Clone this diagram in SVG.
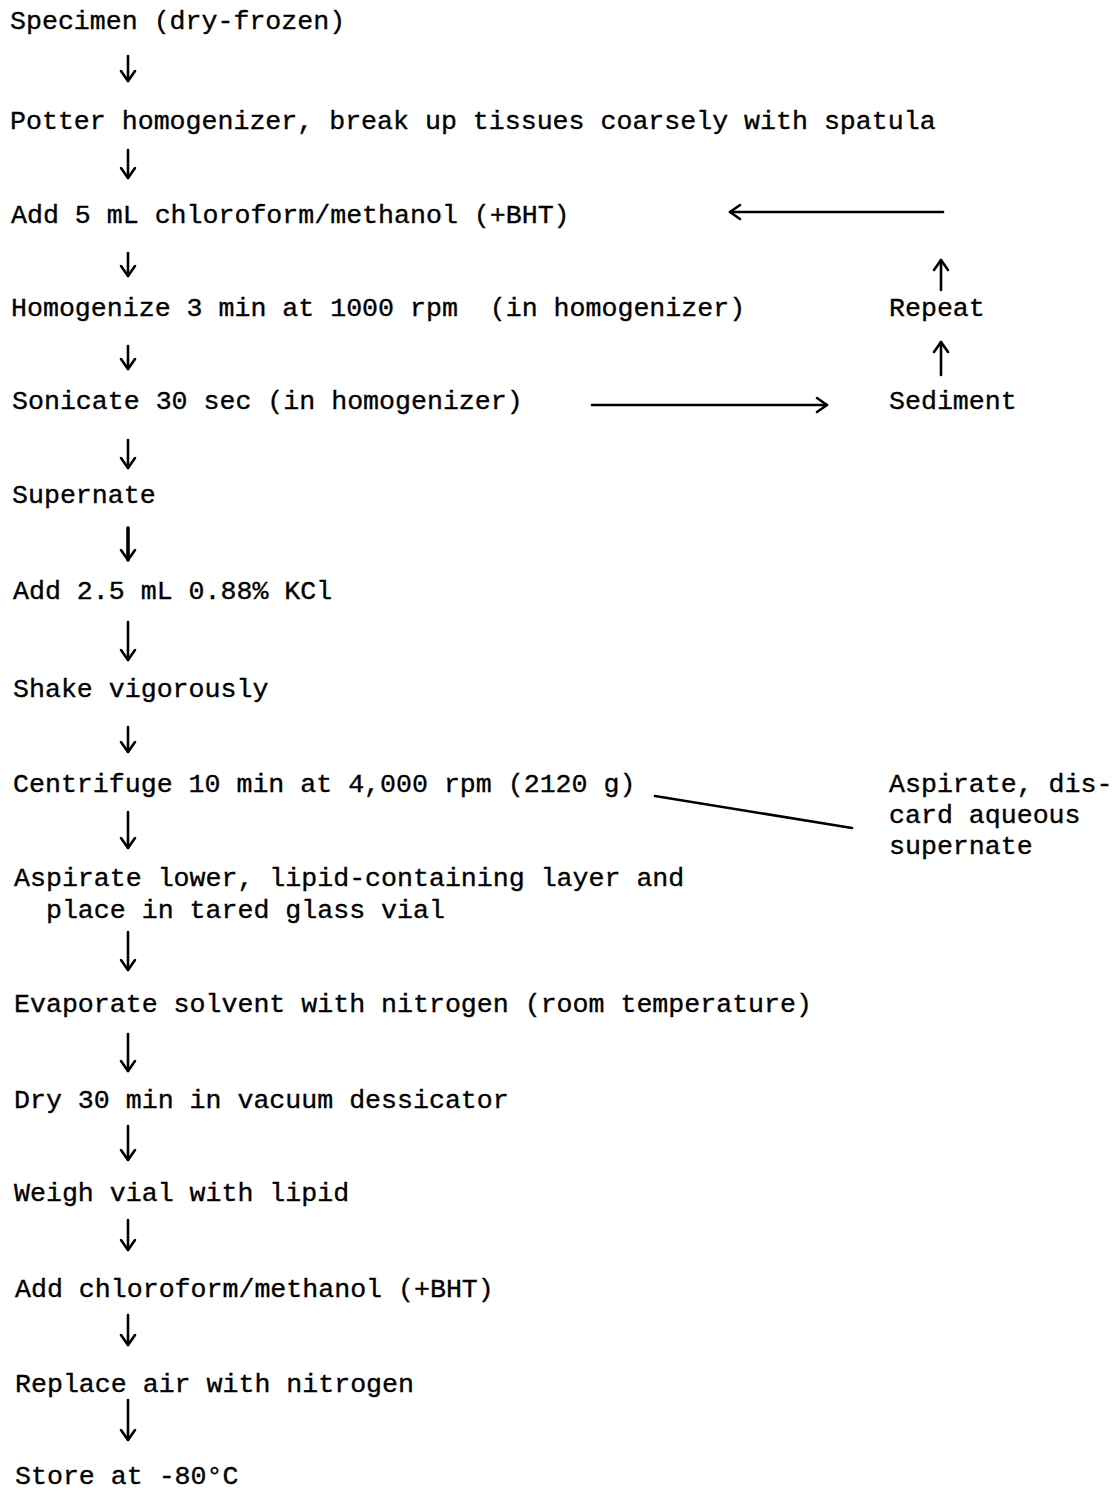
<svg xmlns="http://www.w3.org/2000/svg" width="1119" height="1491" viewBox="0 0 1119 1491">
<defs>
<style>
.t{font-family:"Liberation Mono","Courier New",monospace;font-size:26.6px;fill:#000;stroke:#000;stroke-width:0.35px;white-space:pre}
.c{fill:none;stroke:#000;stroke-width:2.6;stroke-linecap:round}
</style>
<marker id="hd" viewBox="-13 -9 15 18" refX="0" refY="0" markerWidth="15" markerHeight="18" markerUnits="userSpaceOnUse" orient="auto">
<path d="M -10 -7 L 0 0 L -10 7" fill="none" stroke="#000" stroke-width="2.6" stroke-linecap="round" stroke-linejoin="round"/>
</marker>
</defs>
<rect width="1119" height="1491" fill="#fff"/>
<g id="n1"><text class="t" x="10" y="29">Specimen (dry-frozen)</text></g>
<g id="n2"><text class="t" x="10" y="129">Potter homogenizer, break up tissues coarsely with spatula</text></g>
<g id="n3"><text class="t" x="11" y="223">Add 5 mL chloroform/methanol (+BHT)</text></g>
<g id="n4"><text class="t" x="11" y="316">Homogenize 3 min at 1000 rpm  (in homogenizer)</text></g>
<g id="n5"><text class="t" x="12" y="409">Sonicate 30 sec (in homogenizer)</text></g>
<g id="n6"><text class="t" x="12" y="503">Supernate</text></g>
<g id="n7"><text class="t" x="13" y="599">Add 2.5 mL 0.88% KCl</text></g>
<g id="n8"><text class="t" x="13" y="697">Shake vigorously</text></g>
<g id="n9"><text class="t" x="13" y="792">Centrifuge 10 min at 4,000 rpm (2120 g)</text></g>
<g id="n10"><text class="t" x="14" y="886">Aspirate lower, lipid-containing layer and</text><text class="t" x="14" y="918">  place in tared glass vial</text></g>
<g id="n11"><text class="t" x="14" y="1012">Evaporate solvent with nitrogen (room temperature)</text></g>
<g id="n12"><text class="t" x="14" y="1108">Dry 30 min in vacuum dessicator</text></g>
<g id="n13"><text class="t" x="14" y="1201">Weigh vial with lipid</text></g>
<g id="n14"><text class="t" x="15" y="1297">Add chloroform/methanol (+BHT)</text></g>
<g id="n15"><text class="t" x="15" y="1392">Replace air with nitrogen</text></g>
<g id="n16"><text class="t" x="15" y="1484">Store at -80°C</text></g>
<g id="repeat"><text class="t" x="889" y="316">Repeat</text></g>
<g id="sediment"><text class="t" x="889" y="409">Sediment</text></g>
<g id="discard"><text class="t" x="889" y="792">Aspirate, dis-</text><text class="t" x="889" y="823">card aqueous</text><text class="t" x="889" y="854">supernate</text></g>
<g id="connectors">
<path class="c" d="M128 56 V81" marker-end="url(#hd)"/>
<path class="c" d="M128 150 V178" marker-end="url(#hd)"/>
<path class="c" d="M128 253 V276" marker-end="url(#hd)"/>
<path class="c" d="M128 346 V369" marker-end="url(#hd)"/>
<path class="c" d="M128 440 V468" marker-end="url(#hd)"/>
<path class="c" d="M128 528 V560" marker-end="url(#hd)" style="stroke-width:3.6"/>
<path class="c" d="M128 622 V660" marker-end="url(#hd)"/>
<path class="c" d="M128 727 V752" marker-end="url(#hd)"/>
<path class="c" d="M128 812 V848" marker-end="url(#hd)"/>
<path class="c" d="M128 932 V970" marker-end="url(#hd)"/>
<path class="c" d="M128 1034 V1071" marker-end="url(#hd)"/>
<path class="c" d="M128 1126 V1160" marker-end="url(#hd)"/>
<path class="c" d="M128 1220 V1250" marker-end="url(#hd)"/>
<path class="c" d="M128 1315 V1345" marker-end="url(#hd)"/>
<path class="c" d="M128 1400 V1440" marker-end="url(#hd)"/>
<path class="c" d="M941 375 V342" marker-end="url(#hd)"/>
<path class="c" d="M941 290 V260" marker-end="url(#hd)"/>
<path class="c" d="M943 212 H730" marker-end="url(#hd)"/>
<path class="c" d="M592 405 H827" marker-end="url(#hd)"/>
<path class="c" d="M655 796 L852 828"/>
</g>
</svg>
